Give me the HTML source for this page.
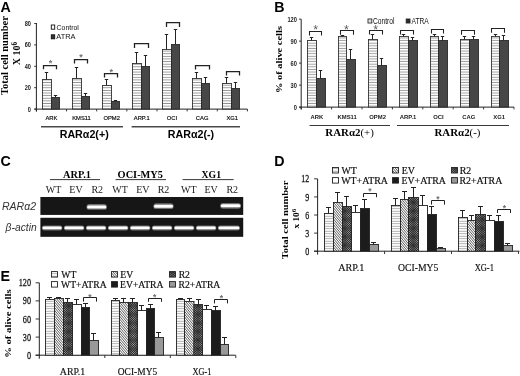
<!DOCTYPE html>
<html><head><meta charset="utf-8"><title>Figure</title>
<style>
html,body{margin:0;padding:0;background:#fff;}
body{width:520px;height:376px;overflow:hidden;font-family:"Liberation Sans",sans-serif;}
svg{display:block;}
</style></head><body>
<svg width="520" height="376" viewBox="0 0 520 376">
<rect width="520" height="376" fill="#fff"/>
<defs>
<pattern id="hz" width="4" height="2.62" patternUnits="userSpaceOnUse"><rect width="4" height="2.62" fill="#fff"/><rect y="0.9" width="4" height="0.85" fill="#8e8e8e"/></pattern>
<pattern id="hzB" width="4" height="2.62" patternUnits="userSpaceOnUse"><rect width="4" height="2.62" fill="#fff"/><rect y="0.8" width="4" height="0.8" fill="#8a8a8a"/></pattern>
<pattern id="hzD" width="4" height="2.5" patternUnits="userSpaceOnUse"><rect width="4" height="2.5" fill="#fff"/><rect y="0.8" width="4" height="0.75" fill="#969696"/></pattern>
<pattern id="dg" width="1.7" height="1.7" patternUnits="userSpaceOnUse" patternTransform="rotate(-32)"><rect width="1.7" height="1.7" fill="#f6f6f6"/><rect width="0.7" height="1.7" fill="#6a6a6a"/></pattern>
<pattern id="ck" width="1.6" height="1.6" patternUnits="userSpaceOnUse" patternTransform="rotate(45)"><rect width="1.6" height="1.6" fill="#282828"/><rect width="0.78" height="0.78" fill="#b0b0b0"/></pattern>
<pattern id="gr" width="4" height="2" patternUnits="userSpaceOnUse"><rect width="4" height="2" fill="#a2a2a2"/><rect y="0.6" width="4" height="0.8" fill="#8c8c8c"/></pattern>
<filter id="blur"><feGaussianBlur stdDeviation="0.3"/></filter>
<filter id="bblur" x="-10%" y="-60%" width="120%" height="220%"><feGaussianBlur stdDeviation="0.7"/></filter>
</defs>
<g filter="url(#blur)">
<text transform="translate(0.60,12.00) scale(0.95,1)" font-family='"Liberation Sans", sans-serif' font-size="15" font-weight="bold" text-anchor="start" fill="#000" >A</text>
<line x1="36.40" y1="23.00" x2="36.40" y2="111.50" stroke="#222" stroke-width="1"/>
<line x1="34.40" y1="109.10" x2="247.40" y2="109.10" stroke="#222" stroke-width="1"/>
<line x1="34.20" y1="109.10" x2="36.40" y2="109.10" stroke="#222" stroke-width="0.9"/>
<text transform="translate(30.90,111.50) scale(0.84,1)" font-family='"Liberation Sans", sans-serif' font-size="6.7" font-weight="bold" text-anchor="end" fill="#222" >0</text>
<line x1="34.20" y1="87.70" x2="36.40" y2="87.70" stroke="#222" stroke-width="0.9"/>
<text transform="translate(30.90,90.10) scale(0.84,1)" font-family='"Liberation Sans", sans-serif' font-size="6.7" font-weight="bold" text-anchor="end" fill="#222" >20</text>
<line x1="34.20" y1="66.30" x2="36.40" y2="66.30" stroke="#222" stroke-width="0.9"/>
<text transform="translate(30.90,68.70) scale(0.84,1)" font-family='"Liberation Sans", sans-serif' font-size="6.7" font-weight="bold" text-anchor="end" fill="#222" >40</text>
<line x1="34.20" y1="44.90" x2="36.40" y2="44.90" stroke="#222" stroke-width="0.9"/>
<text transform="translate(30.90,47.30) scale(0.84,1)" font-family='"Liberation Sans", sans-serif' font-size="6.7" font-weight="bold" text-anchor="end" fill="#222" >60</text>
<line x1="34.20" y1="23.50" x2="36.40" y2="23.50" stroke="#222" stroke-width="0.9"/>
<text transform="translate(30.90,25.90) scale(0.84,1)" font-family='"Liberation Sans", sans-serif' font-size="6.7" font-weight="bold" text-anchor="end" fill="#222" >80</text>
<line x1="36.40" y1="109.10" x2="36.40" y2="111.40" stroke="#222" stroke-width="0.9"/>
<line x1="66.55" y1="109.10" x2="66.55" y2="111.40" stroke="#222" stroke-width="0.9"/>
<line x1="96.70" y1="109.10" x2="96.70" y2="111.40" stroke="#222" stroke-width="0.9"/>
<line x1="126.85" y1="109.10" x2="126.85" y2="111.40" stroke="#222" stroke-width="0.9"/>
<line x1="157.00" y1="109.10" x2="157.00" y2="111.40" stroke="#222" stroke-width="0.9"/>
<line x1="187.15" y1="109.10" x2="187.15" y2="111.40" stroke="#222" stroke-width="0.9"/>
<line x1="217.30" y1="109.10" x2="217.30" y2="111.40" stroke="#222" stroke-width="0.9"/>
<line x1="247.45" y1="109.10" x2="247.45" y2="111.40" stroke="#222" stroke-width="0.9"/>
<text transform="translate(7.80,55.60) rotate(-90)" font-family='"Liberation Serif", serif' font-size="9.4" font-weight="bold" text-anchor="middle" fill="#000" textLength="79" lengthAdjust="spacingAndGlyphs">Total cell number</text>
<text transform="translate(20.4,53.6) rotate(-90)" font-family='"Liberation Serif", serif' font-size="10" font-weight="bold" text-anchor="middle">X 10<tspan font-size="7.2" dy="-3.2">6</tspan></text>
<rect x="51.30" y="25.00" width="3.40" height="4.20" fill="#fff" stroke="#111" stroke-width="0.9"/>
<text x="56.60" y="30.10" font-family='"Liberation Sans", sans-serif' font-size="7.8" font-weight="normal" font-style="normal" text-anchor="start" fill="#111" textLength="22.3" lengthAdjust="spacingAndGlyphs">Control</text>
<rect x="51.30" y="34.80" width="3.40" height="4.00" fill="#333" stroke="#111" stroke-width="0.9"/>
<text x="56.30" y="39.20" font-family='"Liberation Sans", sans-serif' font-size="7.8" font-weight="normal" font-style="normal" text-anchor="start" fill="#111" textLength="19.2" lengthAdjust="spacingAndGlyphs">ATRA</text>
<rect x="42.50" y="79.50" width="9.00" height="29.60" fill="url(#hz)" stroke="#333" stroke-width="0.9"/>
<rect x="51.50" y="97.50" width="8.00" height="11.60" fill="#464646" stroke="#2a2a2a" stroke-width="0.9"/>
<line x1="46.50" y1="72.50" x2="46.50" y2="79.50" stroke="#222" stroke-width="1.0"/>
<line x1="44.80" y1="72.50" x2="48.20" y2="72.50" stroke="#222" stroke-width="1.0"/>
<line x1="55.50" y1="95.50" x2="55.50" y2="97.50" stroke="#222" stroke-width="1.0"/>
<line x1="53.80" y1="95.50" x2="57.20" y2="95.50" stroke="#222" stroke-width="1.0"/>
<path d="M43.50,69.20 L43.50,65.50 L56.50,65.50 L56.50,69.20" fill="none" stroke="#222" stroke-width="1.25"/>
<text x="50.40" y="66.00" font-family='"Liberation Sans", sans-serif' font-size="9" font-weight="bold" font-style="normal" text-anchor="middle" fill="#747474" >*</text>
<text x="51.37" y="119.70" font-family='"Liberation Sans", sans-serif' font-size="5.8" font-weight="normal" font-style="normal" text-anchor="middle" fill="#000" stroke="#000" stroke-width="0.15">ARK</text>
<rect x="72.50" y="78.50" width="9.00" height="30.60" fill="url(#hz)" stroke="#333" stroke-width="0.9"/>
<rect x="81.50" y="96.50" width="8.00" height="12.60" fill="#464646" stroke="#2a2a2a" stroke-width="0.9"/>
<line x1="76.50" y1="67.50" x2="76.50" y2="78.50" stroke="#222" stroke-width="1.0"/>
<line x1="74.80" y1="67.50" x2="78.20" y2="67.50" stroke="#222" stroke-width="1.0"/>
<line x1="85.50" y1="93.50" x2="85.50" y2="96.50" stroke="#222" stroke-width="1.0"/>
<line x1="83.80" y1="93.50" x2="87.20" y2="93.50" stroke="#222" stroke-width="1.0"/>
<path d="M74.50,63.60 L74.50,59.50 L87.50,59.50 L87.50,63.60" fill="none" stroke="#222" stroke-width="1.25"/>
<text x="81.10" y="60.40" font-family='"Liberation Sans", sans-serif' font-size="9" font-weight="bold" font-style="normal" text-anchor="middle" fill="#747474" >*</text>
<text x="81.53" y="119.70" font-family='"Liberation Sans", sans-serif' font-size="5.8" font-weight="normal" font-style="normal" text-anchor="middle" fill="#000" stroke="#000" stroke-width="0.15">KMS11</text>
<rect x="102.50" y="85.50" width="9.00" height="23.60" fill="url(#hz)" stroke="#333" stroke-width="0.9"/>
<rect x="111.50" y="101.50" width="8.00" height="7.60" fill="#464646" stroke="#2a2a2a" stroke-width="0.9"/>
<line x1="106.50" y1="79.50" x2="106.50" y2="85.50" stroke="#222" stroke-width="1.0"/>
<line x1="104.80" y1="79.50" x2="108.20" y2="79.50" stroke="#222" stroke-width="1.0"/>
<line x1="115.50" y1="100.50" x2="115.50" y2="101.50" stroke="#222" stroke-width="1.0"/>
<line x1="113.80" y1="100.50" x2="117.20" y2="100.50" stroke="#222" stroke-width="1.0"/>
<path d="M104.50,77.60 L104.50,73.50 L117.50,73.50 L117.50,77.60" fill="none" stroke="#222" stroke-width="1.25"/>
<text x="111.30" y="74.60" font-family='"Liberation Sans", sans-serif' font-size="9" font-weight="bold" font-style="normal" text-anchor="middle" fill="#747474" >*</text>
<text x="111.68" y="119.70" font-family='"Liberation Sans", sans-serif' font-size="5.8" font-weight="normal" font-style="normal" text-anchor="middle" fill="#000" stroke="#000" stroke-width="0.15">OPM2</text>
<rect x="132.50" y="63.50" width="9.00" height="45.60" fill="url(#hz)" stroke="#333" stroke-width="0.9"/>
<rect x="141.50" y="66.50" width="8.00" height="42.60" fill="#464646" stroke="#2a2a2a" stroke-width="0.9"/>
<line x1="136.50" y1="52.50" x2="136.50" y2="63.50" stroke="#222" stroke-width="1.0"/>
<line x1="134.80" y1="52.50" x2="138.20" y2="52.50" stroke="#222" stroke-width="1.0"/>
<line x1="145.50" y1="55.50" x2="145.50" y2="66.50" stroke="#222" stroke-width="1.0"/>
<line x1="143.80" y1="55.50" x2="147.20" y2="55.50" stroke="#222" stroke-width="1.0"/>
<path d="M134.50,48.00 L134.50,43.50 L148.50,43.50 L148.50,48.00" fill="none" stroke="#222" stroke-width="1.25"/>
<text x="141.82" y="119.70" font-family='"Liberation Sans", sans-serif' font-size="5.8" font-weight="normal" font-style="normal" text-anchor="middle" fill="#000" stroke="#000" stroke-width="0.15">ARP.1</text>
<rect x="162.50" y="49.50" width="9.00" height="59.60" fill="url(#hz)" stroke="#333" stroke-width="0.9"/>
<rect x="171.50" y="44.50" width="8.00" height="64.60" fill="#464646" stroke="#2a2a2a" stroke-width="0.9"/>
<line x1="166.50" y1="34.50" x2="166.50" y2="49.50" stroke="#222" stroke-width="1.0"/>
<line x1="164.80" y1="34.50" x2="168.20" y2="34.50" stroke="#222" stroke-width="1.0"/>
<line x1="175.50" y1="29.50" x2="175.50" y2="44.50" stroke="#222" stroke-width="1.0"/>
<line x1="173.80" y1="29.50" x2="177.20" y2="29.50" stroke="#222" stroke-width="1.0"/>
<path d="M166.50,27.00 L166.50,22.50 L179.50,22.50 L179.50,27.00" fill="none" stroke="#222" stroke-width="1.25"/>
<text x="171.97" y="119.70" font-family='"Liberation Sans", sans-serif' font-size="5.8" font-weight="normal" font-style="normal" text-anchor="middle" fill="#000" stroke="#000" stroke-width="0.15">OCI</text>
<rect x="192.50" y="78.50" width="9.00" height="30.60" fill="url(#hz)" stroke="#333" stroke-width="0.9"/>
<rect x="201.50" y="83.50" width="8.00" height="25.60" fill="#464646" stroke="#2a2a2a" stroke-width="0.9"/>
<line x1="196.50" y1="72.50" x2="196.50" y2="78.50" stroke="#222" stroke-width="1.0"/>
<line x1="194.80" y1="72.50" x2="198.20" y2="72.50" stroke="#222" stroke-width="1.0"/>
<line x1="205.50" y1="77.50" x2="205.50" y2="83.50" stroke="#222" stroke-width="1.0"/>
<line x1="203.80" y1="77.50" x2="207.20" y2="77.50" stroke="#222" stroke-width="1.0"/>
<path d="M195.50,69.40 L195.50,65.50 L209.50,65.50 L209.50,69.40" fill="none" stroke="#222" stroke-width="1.25"/>
<text x="202.12" y="119.70" font-family='"Liberation Sans", sans-serif' font-size="5.8" font-weight="normal" font-style="normal" text-anchor="middle" fill="#000" stroke="#000" stroke-width="0.15">CAG</text>
<rect x="222.50" y="83.50" width="9.00" height="25.60" fill="url(#hz)" stroke="#333" stroke-width="0.9"/>
<rect x="231.50" y="88.50" width="8.00" height="20.60" fill="#464646" stroke="#2a2a2a" stroke-width="0.9"/>
<line x1="226.50" y1="77.50" x2="226.50" y2="83.50" stroke="#222" stroke-width="1.0"/>
<line x1="224.80" y1="77.50" x2="228.20" y2="77.50" stroke="#222" stroke-width="1.0"/>
<line x1="235.50" y1="82.50" x2="235.50" y2="88.50" stroke="#222" stroke-width="1.0"/>
<line x1="233.80" y1="82.50" x2="237.20" y2="82.50" stroke="#222" stroke-width="1.0"/>
<path d="M226.50,75.40 L226.50,71.50 L239.50,71.50 L239.50,75.40" fill="none" stroke="#222" stroke-width="1.25"/>
<text x="232.28" y="119.70" font-family='"Liberation Sans", sans-serif' font-size="5.8" font-weight="normal" font-style="normal" text-anchor="middle" fill="#000" stroke="#000" stroke-width="0.15">XG1</text>
<line x1="41.00" y1="126.70" x2="123.00" y2="126.70" stroke="#4a4a4a" stroke-width="1.5"/>
<line x1="131.60" y1="126.70" x2="240.00" y2="126.70" stroke="#4a4a4a" stroke-width="1.5"/>
<text x="84.20" y="137.50" font-family='"Liberation Sans", sans-serif' font-size="10.7" font-weight="bold" font-style="normal" text-anchor="middle" fill="#000" >RAR&#945;2(+)</text>
<text x="191.00" y="137.50" font-family='"Liberation Sans", sans-serif' font-size="10.7" font-weight="bold" font-style="normal" text-anchor="middle" fill="#000" >RAR&#945;2(-)</text>
<text transform="translate(274.30,12.00) scale(0.95,1)" font-family='"Liberation Sans", sans-serif' font-size="15" font-weight="bold" text-anchor="start" fill="#000" >B</text>
<line x1="301.20" y1="19.20" x2="301.20" y2="109.50" stroke="#222" stroke-width="1"/>
<line x1="299.20" y1="107.10" x2="514.00" y2="107.10" stroke="#222" stroke-width="1"/>
<line x1="299.00" y1="107.10" x2="301.20" y2="107.10" stroke="#222" stroke-width="0.9"/>
<text transform="translate(297.00,109.70) scale(0.9,1)" font-family='"Liberation Sans", sans-serif' font-size="6.4" font-weight="bold" text-anchor="end" fill="#222" >0</text>
<line x1="299.00" y1="85.11" x2="301.20" y2="85.11" stroke="#222" stroke-width="0.9"/>
<text transform="translate(297.00,87.71) scale(0.9,1)" font-family='"Liberation Sans", sans-serif' font-size="6.4" font-weight="bold" text-anchor="end" fill="#222" >30</text>
<line x1="299.00" y1="63.12" x2="301.20" y2="63.12" stroke="#222" stroke-width="0.9"/>
<text transform="translate(297.00,65.72) scale(0.9,1)" font-family='"Liberation Sans", sans-serif' font-size="6.4" font-weight="bold" text-anchor="end" fill="#222" >60</text>
<line x1="299.00" y1="41.13" x2="301.20" y2="41.13" stroke="#222" stroke-width="0.9"/>
<text transform="translate(297.00,43.73) scale(0.9,1)" font-family='"Liberation Sans", sans-serif' font-size="6.4" font-weight="bold" text-anchor="end" fill="#222" >90</text>
<line x1="299.00" y1="19.14" x2="301.20" y2="19.14" stroke="#222" stroke-width="0.9"/>
<text transform="translate(297.00,21.74) scale(0.9,1)" font-family='"Liberation Sans", sans-serif' font-size="6.4" font-weight="bold" text-anchor="end" fill="#222" >120</text>
<line x1="301.20" y1="107.10" x2="301.20" y2="109.40" stroke="#222" stroke-width="0.9"/>
<line x1="331.60" y1="107.10" x2="331.60" y2="109.40" stroke="#222" stroke-width="0.9"/>
<line x1="362.00" y1="107.10" x2="362.00" y2="109.40" stroke="#222" stroke-width="0.9"/>
<line x1="392.40" y1="107.10" x2="392.40" y2="109.40" stroke="#222" stroke-width="0.9"/>
<line x1="422.80" y1="107.10" x2="422.80" y2="109.40" stroke="#222" stroke-width="0.9"/>
<line x1="453.20" y1="107.10" x2="453.20" y2="109.40" stroke="#222" stroke-width="0.9"/>
<line x1="483.60" y1="107.10" x2="483.60" y2="109.40" stroke="#222" stroke-width="0.9"/>
<line x1="514.00" y1="107.10" x2="514.00" y2="109.40" stroke="#222" stroke-width="0.9"/>
<text transform="translate(282.20,59.50) rotate(-90)" font-family='"Liberation Serif", serif' font-size="9.0" font-weight="bold" text-anchor="middle" fill="#000" textLength="67" lengthAdjust="spacingAndGlyphs">% of alive cells</text>
<rect x="368.00" y="19.00" width="3.80" height="4.00" fill="#fff" stroke="#222" stroke-width="0.9"/>
<line x1="368.40" y1="21.00" x2="371.40" y2="21.00" stroke="#999" stroke-width="0.6"/>
<text x="373.00" y="24.00" font-family='"Liberation Sans", sans-serif' font-size="8.2" font-weight="normal" font-style="normal" text-anchor="start" fill="#111" textLength="21.5" lengthAdjust="spacingAndGlyphs">Control</text>
<rect x="406.20" y="19.00" width="3.80" height="4.00" fill="#2e2e2e" stroke="#222" stroke-width="0.9"/>
<text x="411.60" y="24.00" font-family='"Liberation Sans", sans-serif' font-size="8.2" font-weight="normal" font-style="normal" text-anchor="start" fill="#111" textLength="17.2" lengthAdjust="spacingAndGlyphs">ATRA</text>
<rect x="307.50" y="40.50" width="9.00" height="66.60" fill="url(#hzB)" stroke="#333" stroke-width="0.9"/>
<rect x="316.50" y="78.50" width="9.00" height="28.60" fill="#464646" stroke="#2a2a2a" stroke-width="0.9"/>
<line x1="311.50" y1="37.50" x2="311.50" y2="40.50" stroke="#222" stroke-width="1.0"/>
<line x1="309.80" y1="37.50" x2="313.20" y2="37.50" stroke="#222" stroke-width="1.0"/>
<line x1="320.50" y1="70.50" x2="320.50" y2="78.50" stroke="#222" stroke-width="1.0"/>
<line x1="318.80" y1="70.50" x2="322.20" y2="70.50" stroke="#222" stroke-width="1.0"/>
<path d="M309.50,35.40 L309.50,31.50 L321.50,31.50 L321.50,35.40" fill="none" stroke="#222" stroke-width="1.05"/>
<text x="315.60" y="34.10" font-family='"Liberation Sans", sans-serif' font-size="12.5" font-weight="normal" font-style="normal" text-anchor="middle" fill="#5e5e5e" >*</text>
<text x="316.80" y="119.00" font-family='"Liberation Sans", sans-serif' font-size="5.9" font-weight="bold" font-style="normal" text-anchor="middle" fill="#222" >ARK</text>
<rect x="338.50" y="36.50" width="8.00" height="70.60" fill="url(#hzB)" stroke="#333" stroke-width="0.9"/>
<rect x="346.50" y="59.50" width="9.00" height="47.60" fill="#464646" stroke="#2a2a2a" stroke-width="0.9"/>
<line x1="342.50" y1="35.50" x2="342.50" y2="36.50" stroke="#222" stroke-width="1.0"/>
<line x1="340.80" y1="35.50" x2="344.20" y2="35.50" stroke="#222" stroke-width="1.0"/>
<line x1="350.50" y1="49.50" x2="350.50" y2="59.50" stroke="#222" stroke-width="1.0"/>
<line x1="348.80" y1="49.50" x2="352.20" y2="49.50" stroke="#222" stroke-width="1.0"/>
<path d="M340.50,34.80 L340.50,30.50 L353.50,30.50 L353.50,34.80" fill="none" stroke="#222" stroke-width="1.05"/>
<text x="346.50" y="33.70" font-family='"Liberation Sans", sans-serif' font-size="12.5" font-weight="normal" font-style="normal" text-anchor="middle" fill="#5e5e5e" >*</text>
<text x="347.20" y="119.00" font-family='"Liberation Sans", sans-serif' font-size="5.9" font-weight="bold" font-style="normal" text-anchor="middle" fill="#222" >KMS11</text>
<rect x="368.50" y="39.50" width="9.00" height="67.60" fill="url(#hzB)" stroke="#333" stroke-width="0.9"/>
<rect x="377.50" y="65.50" width="9.00" height="41.60" fill="#464646" stroke="#2a2a2a" stroke-width="0.9"/>
<line x1="372.50" y1="34.50" x2="372.50" y2="39.50" stroke="#222" stroke-width="1.0"/>
<line x1="370.80" y1="34.50" x2="374.20" y2="34.50" stroke="#222" stroke-width="1.0"/>
<line x1="381.50" y1="58.50" x2="381.50" y2="65.50" stroke="#222" stroke-width="1.0"/>
<line x1="379.80" y1="58.50" x2="383.20" y2="58.50" stroke="#222" stroke-width="1.0"/>
<path d="M369.50,34.60 L369.50,30.50 L382.50,30.50 L382.50,34.60" fill="none" stroke="#222" stroke-width="1.05"/>
<text x="375.80" y="33.50" font-family='"Liberation Sans", sans-serif' font-size="12.5" font-weight="normal" font-style="normal" text-anchor="middle" fill="#5e5e5e" >*</text>
<text x="377.60" y="119.00" font-family='"Liberation Sans", sans-serif' font-size="5.9" font-weight="bold" font-style="normal" text-anchor="middle" fill="#222" >OPM2</text>
<rect x="399.50" y="36.50" width="9.00" height="70.60" fill="url(#hzB)" stroke="#333" stroke-width="0.9"/>
<rect x="408.50" y="40.50" width="9.00" height="66.60" fill="#464646" stroke="#2a2a2a" stroke-width="0.9"/>
<line x1="403.50" y1="34.50" x2="403.50" y2="36.50" stroke="#222" stroke-width="1.0"/>
<line x1="401.80" y1="34.50" x2="405.20" y2="34.50" stroke="#222" stroke-width="1.0"/>
<line x1="412.50" y1="37.50" x2="412.50" y2="40.50" stroke="#222" stroke-width="1.0"/>
<line x1="410.80" y1="37.50" x2="414.20" y2="37.50" stroke="#222" stroke-width="1.0"/>
<path d="M400.50,34.40 L400.50,30.50 L413.50,30.50 L413.50,34.40" fill="none" stroke="#222" stroke-width="1.05"/>
<text x="408.00" y="119.00" font-family='"Liberation Sans", sans-serif' font-size="5.9" font-weight="bold" font-style="normal" text-anchor="middle" fill="#222" >ARP.1</text>
<rect x="430.50" y="36.50" width="8.00" height="70.60" fill="url(#hzB)" stroke="#333" stroke-width="0.9"/>
<rect x="438.50" y="40.50" width="9.00" height="66.60" fill="#464646" stroke="#2a2a2a" stroke-width="0.9"/>
<line x1="434.50" y1="34.50" x2="434.50" y2="36.50" stroke="#222" stroke-width="1.0"/>
<line x1="432.80" y1="34.50" x2="436.20" y2="34.50" stroke="#222" stroke-width="1.0"/>
<line x1="442.50" y1="36.50" x2="442.50" y2="40.50" stroke="#222" stroke-width="1.0"/>
<line x1="440.80" y1="36.50" x2="444.20" y2="36.50" stroke="#222" stroke-width="1.0"/>
<path d="M431.50,33.40 L431.50,29.50 L443.50,29.50 L443.50,33.40" fill="none" stroke="#222" stroke-width="1.05"/>
<text x="438.40" y="119.00" font-family='"Liberation Sans", sans-serif' font-size="5.9" font-weight="bold" font-style="normal" text-anchor="middle" fill="#222" >OCI</text>
<rect x="460.50" y="39.50" width="9.00" height="67.60" fill="url(#hzB)" stroke="#333" stroke-width="0.9"/>
<rect x="469.50" y="39.50" width="9.00" height="67.60" fill="#464646" stroke="#2a2a2a" stroke-width="0.9"/>
<line x1="464.50" y1="36.50" x2="464.50" y2="39.50" stroke="#222" stroke-width="1.0"/>
<line x1="462.80" y1="36.50" x2="466.20" y2="36.50" stroke="#222" stroke-width="1.0"/>
<line x1="473.50" y1="36.50" x2="473.50" y2="39.50" stroke="#222" stroke-width="1.0"/>
<line x1="471.80" y1="36.50" x2="475.20" y2="36.50" stroke="#222" stroke-width="1.0"/>
<path d="M461.50,34.80 L461.50,30.50 L474.50,30.50 L474.50,34.80" fill="none" stroke="#222" stroke-width="1.05"/>
<text x="468.80" y="119.00" font-family='"Liberation Sans", sans-serif' font-size="5.9" font-weight="bold" font-style="normal" text-anchor="middle" fill="#222" >CAG</text>
<rect x="491.50" y="36.50" width="8.00" height="70.60" fill="url(#hzB)" stroke="#333" stroke-width="0.9"/>
<rect x="499.50" y="40.50" width="9.00" height="66.60" fill="#464646" stroke="#2a2a2a" stroke-width="0.9"/>
<line x1="495.50" y1="34.50" x2="495.50" y2="36.50" stroke="#222" stroke-width="1.0"/>
<line x1="493.80" y1="34.50" x2="497.20" y2="34.50" stroke="#222" stroke-width="1.0"/>
<line x1="503.50" y1="35.50" x2="503.50" y2="40.50" stroke="#222" stroke-width="1.0"/>
<line x1="501.80" y1="35.50" x2="505.20" y2="35.50" stroke="#222" stroke-width="1.0"/>
<path d="M491.50,32.80 L491.50,28.50 L504.50,28.50 L504.50,32.80" fill="none" stroke="#222" stroke-width="1.05"/>
<text x="499.20" y="119.00" font-family='"Liberation Sans", sans-serif' font-size="5.9" font-weight="bold" font-style="normal" text-anchor="middle" fill="#222" >XG1</text>
<line x1="309.60" y1="125.50" x2="390.00" y2="125.50" stroke="#222" stroke-width="0.9"/>
<line x1="397.00" y1="125.50" x2="509.00" y2="125.50" stroke="#222" stroke-width="0.9"/>
<text x="349.60" y="136.40" font-family='"Liberation Serif", serif' font-size="10.9" font-weight="bold" font-style="normal" text-anchor="middle" fill="#000" >RAR&#945;2<tspan font-weight="normal">(+)</tspan></text>
<text x="457.50" y="136.40" font-family='"Liberation Serif", serif' font-size="10.9" font-weight="bold" font-style="normal" text-anchor="middle" fill="#000" >RAR&#945;2<tspan font-weight="normal">(-)</tspan></text>
<text transform="translate(0.50,166.30) scale(0.95,1)" font-family='"Liberation Sans", sans-serif' font-size="15" font-weight="bold" text-anchor="start" fill="#000" >C</text>
<text x="77.00" y="177.60" font-family='"Liberation Serif", serif' font-size="10" font-weight="bold" font-style="normal" text-anchor="middle" fill="#000" textLength="28" lengthAdjust="spacingAndGlyphs">ARP.1</text>
<line x1="50.00" y1="179.60" x2="100.00" y2="179.60" stroke="#222" stroke-width="0.9"/>
<text x="140.30" y="177.60" font-family='"Liberation Serif", serif' font-size="10" font-weight="bold" font-style="normal" text-anchor="middle" fill="#000" textLength="45.4" lengthAdjust="spacingAndGlyphs">OCI-MY5</text>
<line x1="115.60" y1="179.60" x2="166.00" y2="179.60" stroke="#222" stroke-width="0.9"/>
<text x="211.30" y="177.60" font-family='"Liberation Serif", serif' font-size="10" font-weight="bold" font-style="normal" text-anchor="middle" fill="#000" textLength="19.4" lengthAdjust="spacingAndGlyphs">XG1</text>
<line x1="182.60" y1="179.60" x2="233.60" y2="179.60" stroke="#222" stroke-width="0.9"/>
<text x="53.50" y="193.00" font-family='"Liberation Serif", serif' font-size="10" font-weight="normal" font-style="normal" text-anchor="middle" fill="#222" >WT</text>
<text x="76.00" y="193.00" font-family='"Liberation Serif", serif' font-size="10" font-weight="normal" font-style="normal" text-anchor="middle" fill="#222" >EV</text>
<text x="97.30" y="193.00" font-family='"Liberation Serif", serif' font-size="10" font-weight="normal" font-style="normal" text-anchor="middle" fill="#222" >R2</text>
<text x="120.00" y="193.00" font-family='"Liberation Serif", serif' font-size="10" font-weight="normal" font-style="normal" text-anchor="middle" fill="#222" >WT</text>
<text x="142.80" y="193.00" font-family='"Liberation Serif", serif' font-size="10" font-weight="normal" font-style="normal" text-anchor="middle" fill="#222" >EV</text>
<text x="163.50" y="193.00" font-family='"Liberation Serif", serif' font-size="10" font-weight="normal" font-style="normal" text-anchor="middle" fill="#222" >R2</text>
<text x="188.80" y="193.00" font-family='"Liberation Serif", serif' font-size="10" font-weight="normal" font-style="normal" text-anchor="middle" fill="#222" >WT</text>
<text x="211.20" y="193.00" font-family='"Liberation Serif", serif' font-size="10" font-weight="normal" font-style="normal" text-anchor="middle" fill="#222" >EV</text>
<text x="232.30" y="193.00" font-family='"Liberation Serif", serif' font-size="10" font-weight="normal" font-style="normal" text-anchor="middle" fill="#222" >R2</text>
<text x="2.00" y="209.80" font-family='"Liberation Sans", sans-serif' font-size="10.5" font-weight="normal" font-style="italic" text-anchor="start" fill="#333" >RAR&#945;2</text>
<text x="5.60" y="231.20" font-family='"Liberation Sans", sans-serif' font-size="10.3" font-weight="normal" font-style="italic" text-anchor="start" fill="#333" >&#946;-actin</text>
<rect x="40.4" y="197" width="202.8" height="17.9" fill="#121212"/>
<rect x="40.4" y="217.8" width="202.8" height="19.0" fill="#121212"/>
<rect x="86.40" y="204.00" width="20.60" height="5.80" rx="2.90" fill="#707070" filter="url(#bblur)"/>
<rect x="87.10" y="205.40" width="19.20" height="3.00" rx="1.50" fill="#fff"/>
<rect x="153.30" y="203.30" width="20.40" height="5.80" rx="2.90" fill="#707070" filter="url(#bblur)"/>
<rect x="154.00" y="204.70" width="19.00" height="3.00" rx="1.50" fill="#fff"/>
<rect x="220.10" y="202.90" width="21.00" height="5.80" rx="2.90" fill="#707070" filter="url(#bblur)"/>
<rect x="220.80" y="204.30" width="19.60" height="3.00" rx="1.50" fill="#fff"/>
<rect x="41.80" y="225.40" width="20.60" height="5.00" rx="2.50" fill="#707070" filter="url(#bblur)"/>
<rect x="42.50" y="226.60" width="19.20" height="2.60" rx="1.30" fill="#fff"/>
<rect x="63.80" y="225.40" width="20.60" height="5.00" rx="2.50" fill="#707070" filter="url(#bblur)"/>
<rect x="64.50" y="226.60" width="19.20" height="2.60" rx="1.30" fill="#fff"/>
<rect x="85.80" y="225.40" width="20.60" height="5.00" rx="2.50" fill="#707070" filter="url(#bblur)"/>
<rect x="86.50" y="226.60" width="19.20" height="2.60" rx="1.30" fill="#fff"/>
<rect x="107.80" y="225.40" width="20.60" height="5.00" rx="2.50" fill="#707070" filter="url(#bblur)"/>
<rect x="108.50" y="226.60" width="19.20" height="2.60" rx="1.30" fill="#fff"/>
<rect x="129.80" y="225.40" width="20.60" height="5.00" rx="2.50" fill="#707070" filter="url(#bblur)"/>
<rect x="130.50" y="226.60" width="19.20" height="2.60" rx="1.30" fill="#fff"/>
<rect x="151.80" y="225.40" width="20.60" height="5.00" rx="2.50" fill="#707070" filter="url(#bblur)"/>
<rect x="152.50" y="226.60" width="19.20" height="2.60" rx="1.30" fill="#fff"/>
<rect x="173.80" y="225.40" width="20.60" height="5.00" rx="2.50" fill="#707070" filter="url(#bblur)"/>
<rect x="174.50" y="226.60" width="19.20" height="2.60" rx="1.30" fill="#fff"/>
<rect x="195.80" y="225.40" width="20.60" height="5.00" rx="2.50" fill="#707070" filter="url(#bblur)"/>
<rect x="196.50" y="226.60" width="19.20" height="2.60" rx="1.30" fill="#fff"/>
<rect x="217.80" y="225.40" width="22.20" height="5.00" rx="2.50" fill="#707070" filter="url(#bblur)"/>
<rect x="218.50" y="226.60" width="20.80" height="2.60" rx="1.30" fill="#fff"/>
<text transform="translate(274.30,166.20) scale(0.95,1)" font-family='"Liberation Sans", sans-serif' font-size="15" font-weight="bold" text-anchor="start" fill="#000" >D</text>
<line x1="317.60" y1="178.84" x2="317.60" y2="254.60" stroke="#222" stroke-width="1"/>
<line x1="314.10" y1="251.20" x2="519.50" y2="251.20" stroke="#222" stroke-width="1"/>
<line x1="314.10" y1="251.20" x2="317.60" y2="251.20" stroke="#222" stroke-width="0.9"/>
<text transform="translate(309.30,254.80) scale(0.78,1)" font-family='"Liberation Serif", serif' font-size="10.2" font-weight="normal" text-anchor="end" fill="#111" stroke="#111" stroke-width="0.25">0</text>
<line x1="314.10" y1="233.11" x2="317.60" y2="233.11" stroke="#222" stroke-width="0.9"/>
<text transform="translate(309.30,236.71) scale(0.78,1)" font-family='"Liberation Serif", serif' font-size="10.2" font-weight="normal" text-anchor="end" fill="#111" stroke="#111" stroke-width="0.25">3</text>
<line x1="314.10" y1="215.02" x2="317.60" y2="215.02" stroke="#222" stroke-width="0.9"/>
<text transform="translate(309.30,218.62) scale(0.78,1)" font-family='"Liberation Serif", serif' font-size="10.2" font-weight="normal" text-anchor="end" fill="#111" stroke="#111" stroke-width="0.25">6</text>
<line x1="314.10" y1="196.93" x2="317.60" y2="196.93" stroke="#222" stroke-width="0.9"/>
<text transform="translate(309.30,200.53) scale(0.78,1)" font-family='"Liberation Serif", serif' font-size="10.2" font-weight="normal" text-anchor="end" fill="#111" stroke="#111" stroke-width="0.25">9</text>
<line x1="314.10" y1="178.84" x2="317.60" y2="178.84" stroke="#222" stroke-width="0.9"/>
<text transform="translate(309.30,182.44) scale(0.78,1)" font-family='"Liberation Serif", serif' font-size="10.2" font-weight="normal" text-anchor="end" fill="#111" stroke="#111" stroke-width="0.25">12</text>
<line x1="384.55" y1="251.20" x2="384.55" y2="254.00" stroke="#222" stroke-width="0.9"/>
<line x1="451.50" y1="251.20" x2="451.50" y2="254.00" stroke="#222" stroke-width="0.9"/>
<line x1="518.45" y1="251.20" x2="518.45" y2="254.00" stroke="#222" stroke-width="0.9"/>
<text transform="translate(287.80,219.90) rotate(-90)" font-family='"Liberation Serif", serif' font-size="8.8" font-weight="bold" text-anchor="middle" fill="#000" textLength="78.5" lengthAdjust="spacingAndGlyphs">Total cell number</text>
<text transform="translate(298.8,218.7) rotate(-90)" font-family='"Liberation Serif", serif' font-size="8.8" font-weight="bold" text-anchor="middle" textLength="19.6" lengthAdjust="spacingAndGlyphs">x 10<tspan font-size="6.6" dy="-2.8">6</tspan></text>
<rect x="332.50" y="167.50" width="6.00" height="5.50" fill="url(#hzD)" stroke="#222" stroke-width="0.9"/>
<text x="341.50" y="173.60" font-family='"Liberation Serif", serif' font-size="9.85" font-weight="normal" font-style="normal" text-anchor="start" fill="#111" stroke="#111" stroke-width="0.2">WT</text>
<rect x="332.50" y="177.60" width="6.00" height="5.50" fill="#fff" stroke="#222" stroke-width="0.9"/>
<text x="341.30" y="184.00" font-family='"Liberation Serif", serif' font-size="9.85" font-weight="normal" font-style="normal" text-anchor="start" fill="#111" stroke="#111" stroke-width="0.2">WT+ATRA</text>
<clipPath id="c1"><rect x="392.50" y="167.50" width="6.00" height="5.50"/></clipPath>
<rect x="392.50" y="167.50" width="6.00" height="5.50" fill="#fbfbfb"/>
<path clip-path="url(#c1)" d="M385.40,167.50L390.02,173.00M387.75,167.50L392.37,173.00M390.10,167.50L394.72,173.00M392.45,167.50L397.07,173.00M394.80,167.50L399.42,173.00M397.15,167.50L401.77,173.00M399.50,167.50L404.12,173.00" stroke="#383838" stroke-width="0.8" fill="none"/>
<rect x="392.50" y="167.50" width="6.00" height="5.50" fill="none" stroke="#222" stroke-width="0.9"/>
<text x="401.70" y="173.60" font-family='"Liberation Serif", serif' font-size="9.85" font-weight="normal" font-style="normal" text-anchor="start" fill="#111" stroke="#111" stroke-width="0.2">EV</text>
<rect x="392.50" y="177.60" width="6.00" height="5.50" fill="#1e1e1e" stroke="#222" stroke-width="0.9"/>
<text x="401.50" y="184.00" font-family='"Liberation Serif", serif' font-size="9.85" font-weight="normal" font-style="normal" text-anchor="start" fill="#111" stroke="#111" stroke-width="0.2">EV+ATRA</text>
<rect x="451.50" y="167.50" width="6.00" height="5.50" fill="url(#ck)" stroke="#222" stroke-width="0.9"/>
<text x="459.70" y="173.60" font-family='"Liberation Serif", serif' font-size="9.85" font-weight="normal" font-style="normal" text-anchor="start" fill="#111" stroke="#111" stroke-width="0.2">R2</text>
<rect x="451.50" y="177.60" width="6.00" height="5.50" fill="url(#gr)" stroke="#222" stroke-width="0.9"/>
<text x="459.50" y="184.00" font-family='"Liberation Serif", serif' font-size="9.85" font-weight="normal" font-style="normal" text-anchor="start" fill="#111" stroke="#111" stroke-width="0.2">R2+ATRA</text>
<rect x="324.50" y="213.50" width="9.00" height="37.70" fill="url(#hzD)" stroke="#222" stroke-width="0.9"/>
<line x1="328.50" y1="207.50" x2="328.50" y2="213.50" stroke="#222" stroke-width="1.0"/>
<line x1="326.00" y1="207.50" x2="331.00" y2="207.50" stroke="#222" stroke-width="1.0"/>
<clipPath id="c2"><rect x="333.50" y="202.50" width="9.00" height="48.70"/></clipPath>
<rect x="333.50" y="202.50" width="9.00" height="48.70" fill="#fbfbfb"/>
<path clip-path="url(#c2)" d="M289.05,202.50L329.91,251.20M291.40,202.50L332.26,251.20M293.75,202.50L334.61,251.20M296.10,202.50L336.96,251.20M298.45,202.50L339.31,251.20M300.80,202.50L341.66,251.20M303.15,202.50L344.01,251.20M305.50,202.50L346.36,251.20M307.85,202.50L348.71,251.20M310.20,202.50L351.06,251.20M312.55,202.50L353.41,251.20M314.90,202.50L355.76,251.20M317.25,202.50L358.11,251.20M319.60,202.50L360.46,251.20M321.95,202.50L362.81,251.20M324.30,202.50L365.16,251.20M326.65,202.50L367.51,251.20M329.00,202.50L369.86,251.20M331.35,202.50L372.21,251.20M333.70,202.50L374.56,251.20M336.05,202.50L376.91,251.20M338.40,202.50L379.26,251.20M340.75,202.50L381.61,251.20M343.10,202.50L383.96,251.20" stroke="#383838" stroke-width="0.8" fill="none"/>
<rect x="333.50" y="202.50" width="9.00" height="48.70" fill="none" stroke="#222" stroke-width="0.9"/>
<line x1="337.50" y1="192.50" x2="337.50" y2="202.50" stroke="#222" stroke-width="1.0"/>
<line x1="335.00" y1="192.50" x2="340.00" y2="192.50" stroke="#222" stroke-width="1.0"/>
<rect x="342.50" y="206.50" width="9.00" height="44.70" fill="url(#ck)" stroke="#222" stroke-width="0.9"/>
<line x1="346.50" y1="196.50" x2="346.50" y2="206.50" stroke="#222" stroke-width="1.0"/>
<line x1="344.00" y1="196.50" x2="349.00" y2="196.50" stroke="#222" stroke-width="1.0"/>
<rect x="351.50" y="212.50" width="9.00" height="38.70" fill="#fff" stroke="#222" stroke-width="0.9"/>
<line x1="355.50" y1="205.50" x2="355.50" y2="212.50" stroke="#222" stroke-width="1.0"/>
<line x1="353.00" y1="205.50" x2="358.00" y2="205.50" stroke="#222" stroke-width="1.0"/>
<rect x="360.50" y="208.50" width="9.00" height="42.70" fill="#1e1e1e" stroke="#222" stroke-width="0.9"/>
<line x1="364.50" y1="199.50" x2="364.50" y2="208.50" stroke="#222" stroke-width="1.0"/>
<line x1="362.00" y1="199.50" x2="367.00" y2="199.50" stroke="#222" stroke-width="1.0"/>
<rect x="369.50" y="244.50" width="9.00" height="6.70" fill="url(#gr)" stroke="#222" stroke-width="0.9"/>
<line x1="373.50" y1="242.50" x2="373.50" y2="244.50" stroke="#222" stroke-width="1.0"/>
<line x1="371.00" y1="242.50" x2="376.00" y2="242.50" stroke="#222" stroke-width="1.0"/>
<path d="M363.50,197.20 L363.50,193.50 L376.50,193.50 L376.50,197.20" fill="none" stroke="#222" stroke-width="1.0"/>
<text x="369.90" y="194.30" font-family='"Liberation Sans", sans-serif' font-size="8.5" font-weight="bold" font-style="normal" text-anchor="middle" fill="#6e6e6e" >*</text>
<rect x="391.50" y="205.50" width="9.00" height="45.70" fill="url(#hzD)" stroke="#222" stroke-width="0.9"/>
<line x1="395.50" y1="198.50" x2="395.50" y2="205.50" stroke="#222" stroke-width="1.0"/>
<line x1="393.00" y1="198.50" x2="398.00" y2="198.50" stroke="#222" stroke-width="1.0"/>
<clipPath id="c3"><rect x="400.50" y="199.50" width="8.00" height="51.70"/></clipPath>
<rect x="400.50" y="199.50" width="8.00" height="51.70" fill="#fbfbfb"/>
<path clip-path="url(#c3)" d="M352.50,199.50L395.88,251.20M354.85,199.50L398.23,251.20M357.20,199.50L400.58,251.20M359.55,199.50L402.93,251.20M361.90,199.50L405.28,251.20M364.25,199.50L407.63,251.20M366.60,199.50L409.98,251.20M368.95,199.50L412.33,251.20M371.30,199.50L414.68,251.20M373.65,199.50L417.03,251.20M376.00,199.50L419.38,251.20M378.35,199.50L421.73,251.20M380.70,199.50L424.08,251.20M383.05,199.50L426.43,251.20M385.40,199.50L428.78,251.20M387.75,199.50L431.13,251.20M390.10,199.50L433.48,251.20M392.45,199.50L435.83,251.20M394.80,199.50L438.18,251.20M397.15,199.50L440.53,251.20M399.50,199.50L442.88,251.20M401.85,199.50L445.23,251.20M404.20,199.50L447.58,251.20M406.55,199.50L449.93,251.20M408.90,199.50L452.28,251.20" stroke="#383838" stroke-width="0.8" fill="none"/>
<rect x="400.50" y="199.50" width="8.00" height="51.70" fill="none" stroke="#222" stroke-width="0.9"/>
<line x1="404.50" y1="191.50" x2="404.50" y2="199.50" stroke="#222" stroke-width="1.0"/>
<line x1="402.00" y1="191.50" x2="407.00" y2="191.50" stroke="#222" stroke-width="1.0"/>
<rect x="408.50" y="197.50" width="10.00" height="53.70" fill="url(#ck)" stroke="#222" stroke-width="0.9"/>
<line x1="413.50" y1="187.50" x2="413.50" y2="197.50" stroke="#222" stroke-width="1.0"/>
<line x1="411.00" y1="187.50" x2="416.00" y2="187.50" stroke="#222" stroke-width="1.0"/>
<rect x="418.50" y="205.50" width="9.00" height="45.70" fill="#fff" stroke="#222" stroke-width="0.9"/>
<line x1="422.50" y1="195.50" x2="422.50" y2="205.50" stroke="#222" stroke-width="1.0"/>
<line x1="420.00" y1="195.50" x2="425.00" y2="195.50" stroke="#222" stroke-width="1.0"/>
<rect x="427.50" y="214.50" width="9.00" height="36.70" fill="#1e1e1e" stroke="#222" stroke-width="0.9"/>
<line x1="431.50" y1="206.50" x2="431.50" y2="214.50" stroke="#222" stroke-width="1.0"/>
<line x1="429.00" y1="206.50" x2="434.00" y2="206.50" stroke="#222" stroke-width="1.0"/>
<rect x="436.50" y="248.50" width="9.00" height="2.70" fill="url(#gr)" stroke="#222" stroke-width="0.9"/>
<line x1="440.50" y1="247.50" x2="440.50" y2="248.50" stroke="#222" stroke-width="1.0"/>
<line x1="438.00" y1="247.50" x2="443.00" y2="247.50" stroke="#222" stroke-width="1.0"/>
<path d="M431.50,204.60 L431.50,200.50 L444.50,200.50 L444.50,204.60" fill="none" stroke="#222" stroke-width="1.0"/>
<text x="438.00" y="202.30" font-family='"Liberation Sans", sans-serif' font-size="8.5" font-weight="bold" font-style="normal" text-anchor="middle" fill="#6e6e6e" >*</text>
<rect x="458.50" y="217.50" width="9.00" height="33.70" fill="url(#hzD)" stroke="#222" stroke-width="0.9"/>
<line x1="462.50" y1="210.50" x2="462.50" y2="217.50" stroke="#222" stroke-width="1.0"/>
<line x1="460.00" y1="210.50" x2="465.00" y2="210.50" stroke="#222" stroke-width="1.0"/>
<clipPath id="c4"><rect x="467.50" y="220.50" width="8.00" height="30.70"/></clipPath>
<rect x="467.50" y="220.50" width="8.00" height="30.70" fill="#fbfbfb"/>
<path clip-path="url(#c4)" d="M437.10,220.50L462.86,251.20M439.45,220.50L465.21,251.20M441.80,220.50L467.56,251.20M444.15,220.50L469.91,251.20M446.50,220.50L472.26,251.20M448.85,220.50L474.61,251.20M451.20,220.50L476.96,251.20M453.55,220.50L479.31,251.20M455.90,220.50L481.66,251.20M458.25,220.50L484.01,251.20M460.60,220.50L486.36,251.20M462.95,220.50L488.71,251.20M465.30,220.50L491.06,251.20M467.65,220.50L493.41,251.20M470.00,220.50L495.76,251.20M472.35,220.50L498.11,251.20M474.70,220.50L500.46,251.20M477.05,220.50L502.81,251.20" stroke="#383838" stroke-width="0.8" fill="none"/>
<rect x="467.50" y="220.50" width="8.00" height="30.70" fill="none" stroke="#222" stroke-width="0.9"/>
<line x1="471.50" y1="215.50" x2="471.50" y2="220.50" stroke="#222" stroke-width="1.0"/>
<line x1="469.00" y1="215.50" x2="474.00" y2="215.50" stroke="#222" stroke-width="1.0"/>
<rect x="475.50" y="214.50" width="10.00" height="36.70" fill="url(#ck)" stroke="#222" stroke-width="0.9"/>
<line x1="480.50" y1="206.50" x2="480.50" y2="214.50" stroke="#222" stroke-width="1.0"/>
<line x1="478.00" y1="206.50" x2="483.00" y2="206.50" stroke="#222" stroke-width="1.0"/>
<rect x="485.50" y="220.50" width="9.00" height="30.70" fill="#fff" stroke="#222" stroke-width="0.9"/>
<line x1="489.50" y1="215.50" x2="489.50" y2="220.50" stroke="#222" stroke-width="1.0"/>
<line x1="487.00" y1="215.50" x2="492.00" y2="215.50" stroke="#222" stroke-width="1.0"/>
<rect x="494.50" y="221.50" width="9.00" height="29.70" fill="#1e1e1e" stroke="#222" stroke-width="0.9"/>
<line x1="498.50" y1="215.50" x2="498.50" y2="221.50" stroke="#222" stroke-width="1.0"/>
<line x1="496.00" y1="215.50" x2="501.00" y2="215.50" stroke="#222" stroke-width="1.0"/>
<rect x="503.50" y="245.50" width="9.00" height="5.70" fill="url(#gr)" stroke="#222" stroke-width="0.9"/>
<line x1="507.50" y1="243.50" x2="507.50" y2="245.50" stroke="#222" stroke-width="1.0"/>
<line x1="505.00" y1="243.50" x2="510.00" y2="243.50" stroke="#222" stroke-width="1.0"/>
<path d="M497.50,213.00 L497.50,209.50 L510.50,209.50 L510.50,213.00" fill="none" stroke="#222" stroke-width="1.0"/>
<text x="504.40" y="210.70" font-family='"Liberation Sans", sans-serif' font-size="8.5" font-weight="bold" font-style="normal" text-anchor="middle" fill="#6e6e6e" >*</text>
<text x="351.30" y="271.00" font-family='"Liberation Serif", serif' font-size="9.6" font-weight="normal" font-style="normal" text-anchor="middle" fill="#111" textLength="26.2" lengthAdjust="spacingAndGlyphs" stroke="#111" stroke-width="0.15">ARP.1</text>
<text x="418.20" y="271.00" font-family='"Liberation Serif", serif' font-size="9.6" font-weight="normal" font-style="normal" text-anchor="middle" fill="#111" textLength="40.4" lengthAdjust="spacingAndGlyphs" stroke="#111" stroke-width="0.15">OCI-MY5</text>
<text x="484.30" y="271.00" font-family='"Liberation Serif", serif' font-size="9.6" font-weight="normal" font-style="normal" text-anchor="middle" fill="#111" textLength="19.2" lengthAdjust="spacingAndGlyphs" stroke="#111" stroke-width="0.15">XG-1</text>
<text transform="translate(0.60,281.00) scale(0.95,1)" font-family='"Liberation Sans", sans-serif' font-size="15" font-weight="bold" text-anchor="start" fill="#000" >E</text>
<line x1="39.30" y1="282.80" x2="39.30" y2="358.70" stroke="#222" stroke-width="1"/>
<line x1="35.60" y1="355.20" x2="235.60" y2="355.20" stroke="#222" stroke-width="1"/>
<line x1="35.60" y1="355.20" x2="39.30" y2="355.20" stroke="#222" stroke-width="0.9"/>
<text transform="translate(31.00,358.70) scale(0.8,1)" font-family='"Liberation Serif", serif' font-size="10.2" font-weight="normal" text-anchor="end" fill="#111" stroke="#111" stroke-width="0.25">0</text>
<line x1="35.60" y1="337.10" x2="39.30" y2="337.10" stroke="#222" stroke-width="0.9"/>
<text transform="translate(31.00,340.60) scale(0.8,1)" font-family='"Liberation Serif", serif' font-size="10.2" font-weight="normal" text-anchor="end" fill="#111" stroke="#111" stroke-width="0.25">30</text>
<line x1="35.60" y1="319.00" x2="39.30" y2="319.00" stroke="#222" stroke-width="0.9"/>
<text transform="translate(31.00,322.50) scale(0.8,1)" font-family='"Liberation Serif", serif' font-size="10.2" font-weight="normal" text-anchor="end" fill="#111" stroke="#111" stroke-width="0.25">60</text>
<line x1="35.60" y1="300.90" x2="39.30" y2="300.90" stroke="#222" stroke-width="0.9"/>
<text transform="translate(31.00,304.40) scale(0.8,1)" font-family='"Liberation Serif", serif' font-size="10.2" font-weight="normal" text-anchor="end" fill="#111" stroke="#111" stroke-width="0.25">90</text>
<line x1="35.60" y1="282.80" x2="39.30" y2="282.80" stroke="#222" stroke-width="0.9"/>
<text transform="translate(31.00,286.30) scale(0.8,1)" font-family='"Liberation Serif", serif' font-size="10.2" font-weight="normal" text-anchor="end" fill="#111" stroke="#111" stroke-width="0.25">120</text>
<line x1="104.80" y1="355.20" x2="104.80" y2="358.00" stroke="#222" stroke-width="0.9"/>
<line x1="170.30" y1="355.20" x2="170.30" y2="358.00" stroke="#222" stroke-width="0.9"/>
<line x1="235.80" y1="355.20" x2="235.80" y2="358.00" stroke="#222" stroke-width="0.9"/>
<text transform="translate(10.70,323.60) rotate(-90)" font-family='"Liberation Serif", serif' font-size="9.0" font-weight="bold" text-anchor="middle" fill="#000" textLength="68.4" lengthAdjust="spacingAndGlyphs">% of alive cells</text>
<rect x="51.50" y="271.60" width="6.00" height="5.50" fill="url(#hzD)" stroke="#222" stroke-width="0.9"/>
<text x="61.30" y="278.10" font-family='"Liberation Serif", serif' font-size="9.65" font-weight="normal" font-style="normal" text-anchor="start" fill="#111" stroke="#111" stroke-width="0.2">WT</text>
<rect x="51.50" y="281.60" width="6.00" height="5.50" fill="#fff" stroke="#222" stroke-width="0.9"/>
<text x="61.10" y="288.10" font-family='"Liberation Serif", serif' font-size="9.65" font-weight="normal" font-style="normal" text-anchor="start" fill="#111" stroke="#111" stroke-width="0.2">WT+ATRA</text>
<clipPath id="c5"><rect x="111.50" y="271.60" width="6.00" height="5.50"/></clipPath>
<rect x="111.50" y="271.60" width="6.00" height="5.50" fill="#fbfbfb"/>
<path clip-path="url(#c5)" d="M103.40,271.60L108.02,277.10M105.75,271.60L110.37,277.10M108.10,271.60L112.72,277.10M110.45,271.60L115.07,277.10M112.80,271.60L117.42,277.10M115.15,271.60L119.77,277.10M117.50,271.60L122.12,277.10M119.85,271.60L124.47,277.10" stroke="#383838" stroke-width="0.8" fill="none"/>
<rect x="111.50" y="271.60" width="6.00" height="5.50" fill="none" stroke="#222" stroke-width="0.9"/>
<text x="120.30" y="278.10" font-family='"Liberation Serif", serif' font-size="9.65" font-weight="normal" font-style="normal" text-anchor="start" fill="#111" stroke="#111" stroke-width="0.2">EV</text>
<rect x="111.50" y="281.60" width="6.00" height="5.50" fill="#1e1e1e" stroke="#222" stroke-width="0.9"/>
<text x="120.10" y="288.10" font-family='"Liberation Serif", serif' font-size="9.65" font-weight="normal" font-style="normal" text-anchor="start" fill="#111" stroke="#111" stroke-width="0.2">EV+ATRA</text>
<rect x="169.50" y="271.60" width="6.00" height="5.50" fill="url(#ck)" stroke="#222" stroke-width="0.9"/>
<text x="178.70" y="278.10" font-family='"Liberation Serif", serif' font-size="9.65" font-weight="normal" font-style="normal" text-anchor="start" fill="#111" stroke="#111" stroke-width="0.2">R2</text>
<rect x="169.50" y="281.60" width="6.00" height="5.50" fill="url(#gr)" stroke="#222" stroke-width="0.9"/>
<text x="178.50" y="288.10" font-family='"Liberation Serif", serif' font-size="9.65" font-weight="normal" font-style="normal" text-anchor="start" fill="#111" stroke="#111" stroke-width="0.2">R2+ATRA</text>
<rect x="45.50" y="299.50" width="9.00" height="55.70" fill="url(#hzD)" stroke="#222" stroke-width="0.9"/>
<line x1="49.50" y1="297.50" x2="49.50" y2="299.50" stroke="#222" stroke-width="1.0"/>
<line x1="47.00" y1="297.50" x2="52.00" y2="297.50" stroke="#222" stroke-width="1.0"/>
<clipPath id="c6"><rect x="54.50" y="298.50" width="9.00" height="56.70"/></clipPath>
<rect x="54.50" y="298.50" width="9.00" height="56.70" fill="#fbfbfb"/>
<path clip-path="url(#c6)" d="M2.35,298.50L49.93,355.20M4.70,298.50L52.28,355.20M7.05,298.50L54.63,355.20M9.40,298.50L56.98,355.20M11.75,298.50L59.33,355.20M14.10,298.50L61.68,355.20M16.45,298.50L64.03,355.20M18.80,298.50L66.38,355.20M21.15,298.50L68.73,355.20M23.50,298.50L71.08,355.20M25.85,298.50L73.43,355.20M28.20,298.50L75.78,355.20M30.55,298.50L78.13,355.20M32.90,298.50L80.48,355.20M35.25,298.50L82.83,355.20M37.60,298.50L85.18,355.20M39.95,298.50L87.53,355.20M42.30,298.50L89.88,355.20M44.65,298.50L92.23,355.20M47.00,298.50L94.58,355.20M49.35,298.50L96.93,355.20M51.70,298.50L99.28,355.20M54.05,298.50L101.63,355.20M56.40,298.50L103.98,355.20M58.75,298.50L106.33,355.20M61.10,298.50L108.68,355.20M63.45,298.50L111.03,355.20M65.80,298.50L113.38,355.20" stroke="#383838" stroke-width="0.8" fill="none"/>
<rect x="54.50" y="298.50" width="9.00" height="56.70" fill="none" stroke="#222" stroke-width="0.9"/>
<line x1="58.50" y1="297.50" x2="58.50" y2="298.50" stroke="#222" stroke-width="1.0"/>
<line x1="56.00" y1="297.50" x2="61.00" y2="297.50" stroke="#222" stroke-width="1.0"/>
<rect x="63.50" y="302.50" width="9.00" height="52.70" fill="url(#ck)" stroke="#222" stroke-width="0.9"/>
<line x1="67.50" y1="298.50" x2="67.50" y2="302.50" stroke="#222" stroke-width="1.0"/>
<line x1="65.00" y1="298.50" x2="70.00" y2="298.50" stroke="#222" stroke-width="1.0"/>
<rect x="72.50" y="304.50" width="9.00" height="50.70" fill="#fff" stroke="#222" stroke-width="0.9"/>
<line x1="76.50" y1="299.50" x2="76.50" y2="304.50" stroke="#222" stroke-width="1.0"/>
<line x1="74.00" y1="299.50" x2="79.00" y2="299.50" stroke="#222" stroke-width="1.0"/>
<rect x="81.50" y="307.50" width="8.00" height="47.70" fill="#1e1e1e" stroke="#222" stroke-width="0.9"/>
<line x1="85.50" y1="303.50" x2="85.50" y2="307.50" stroke="#222" stroke-width="1.0"/>
<line x1="83.00" y1="303.50" x2="88.00" y2="303.50" stroke="#222" stroke-width="1.0"/>
<rect x="89.50" y="340.50" width="9.00" height="14.70" fill="url(#gr)" stroke="#222" stroke-width="0.9"/>
<line x1="93.50" y1="333.50" x2="93.50" y2="340.50" stroke="#222" stroke-width="1.0"/>
<line x1="91.00" y1="333.50" x2="96.00" y2="333.50" stroke="#222" stroke-width="1.0"/>
<path d="M83.50,301.60 L83.50,297.50 L96.50,297.50 L96.50,301.60" fill="none" stroke="#222" stroke-width="1.0"/>
<text x="89.90" y="299.50" font-family='"Liberation Sans", sans-serif' font-size="8.5" font-weight="bold" font-style="normal" text-anchor="middle" fill="#6e6e6e" >*</text>
<rect x="111.50" y="300.50" width="8.00" height="54.70" fill="url(#hzD)" stroke="#222" stroke-width="0.9"/>
<line x1="115.50" y1="298.50" x2="115.50" y2="300.50" stroke="#222" stroke-width="1.0"/>
<line x1="113.00" y1="298.50" x2="118.00" y2="298.50" stroke="#222" stroke-width="1.0"/>
<clipPath id="c7"><rect x="119.50" y="302.50" width="9.00" height="52.70"/></clipPath>
<rect x="119.50" y="302.50" width="9.00" height="52.70" fill="#fbfbfb"/>
<path clip-path="url(#c7)" d="M72.85,302.50L117.07,355.20M75.20,302.50L119.42,355.20M77.55,302.50L121.77,355.20M79.90,302.50L124.12,355.20M82.25,302.50L126.47,355.20M84.60,302.50L128.82,355.20M86.95,302.50L131.17,355.20M89.30,302.50L133.52,355.20M91.65,302.50L135.87,355.20M94.00,302.50L138.22,355.20M96.35,302.50L140.57,355.20M98.70,302.50L142.92,355.20M101.05,302.50L145.27,355.20M103.40,302.50L147.62,355.20M105.75,302.50L149.97,355.20M108.10,302.50L152.32,355.20M110.45,302.50L154.67,355.20M112.80,302.50L157.02,355.20M115.15,302.50L159.37,355.20M117.50,302.50L161.72,355.20M119.85,302.50L164.07,355.20M122.20,302.50L166.42,355.20M124.55,302.50L168.77,355.20M126.90,302.50L171.12,355.20M129.25,302.50L173.47,355.20" stroke="#383838" stroke-width="0.8" fill="none"/>
<rect x="119.50" y="302.50" width="9.00" height="52.70" fill="none" stroke="#222" stroke-width="0.9"/>
<line x1="123.50" y1="298.50" x2="123.50" y2="302.50" stroke="#222" stroke-width="1.0"/>
<line x1="121.00" y1="298.50" x2="126.00" y2="298.50" stroke="#222" stroke-width="1.0"/>
<rect x="128.50" y="302.50" width="9.00" height="52.70" fill="url(#ck)" stroke="#222" stroke-width="0.9"/>
<line x1="132.50" y1="298.50" x2="132.50" y2="302.50" stroke="#222" stroke-width="1.0"/>
<line x1="130.00" y1="298.50" x2="135.00" y2="298.50" stroke="#222" stroke-width="1.0"/>
<rect x="137.50" y="310.50" width="9.00" height="44.70" fill="#fff" stroke="#222" stroke-width="0.9"/>
<line x1="141.50" y1="305.50" x2="141.50" y2="310.50" stroke="#222" stroke-width="1.0"/>
<line x1="139.00" y1="305.50" x2="144.00" y2="305.50" stroke="#222" stroke-width="1.0"/>
<rect x="146.50" y="308.50" width="8.00" height="46.70" fill="#1e1e1e" stroke="#222" stroke-width="0.9"/>
<line x1="150.50" y1="304.50" x2="150.50" y2="308.50" stroke="#222" stroke-width="1.0"/>
<line x1="148.00" y1="304.50" x2="153.00" y2="304.50" stroke="#222" stroke-width="1.0"/>
<rect x="154.50" y="337.50" width="9.00" height="17.70" fill="url(#gr)" stroke="#222" stroke-width="0.9"/>
<line x1="158.50" y1="332.50" x2="158.50" y2="337.50" stroke="#222" stroke-width="1.0"/>
<line x1="156.00" y1="332.50" x2="161.00" y2="332.50" stroke="#222" stroke-width="1.0"/>
<path d="M148.50,301.80 L148.50,298.50 L161.50,298.50 L161.50,301.80" fill="none" stroke="#222" stroke-width="1.0"/>
<text x="154.70" y="299.70" font-family='"Liberation Sans", sans-serif' font-size="8.5" font-weight="bold" font-style="normal" text-anchor="middle" fill="#6e6e6e" >*</text>
<rect x="176.50" y="299.50" width="8.00" height="55.70" fill="url(#hzD)" stroke="#222" stroke-width="0.9"/>
<line x1="180.50" y1="298.50" x2="180.50" y2="299.50" stroke="#222" stroke-width="1.0"/>
<line x1="178.00" y1="298.50" x2="183.00" y2="298.50" stroke="#222" stroke-width="1.0"/>
<clipPath id="c8"><rect x="184.50" y="301.50" width="9.50" height="53.70"/></clipPath>
<rect x="184.50" y="301.50" width="9.50" height="53.70" fill="#fbfbfb"/>
<path clip-path="url(#c8)" d="M136.30,301.50L181.36,355.20M138.65,301.50L183.71,355.20M141.00,301.50L186.06,355.20M143.35,301.50L188.41,355.20M145.70,301.50L190.76,355.20M148.05,301.50L193.11,355.20M150.40,301.50L195.46,355.20M152.75,301.50L197.81,355.20M155.10,301.50L200.16,355.20M157.45,301.50L202.51,355.20M159.80,301.50L204.86,355.20M162.15,301.50L207.21,355.20M164.50,301.50L209.56,355.20M166.85,301.50L211.91,355.20M169.20,301.50L214.26,355.20M171.55,301.50L216.61,355.20M173.90,301.50L218.96,355.20M176.25,301.50L221.31,355.20M178.60,301.50L223.66,355.20M180.95,301.50L226.01,355.20M183.30,301.50L228.36,355.20M185.65,301.50L230.71,355.20M188.00,301.50L233.06,355.20M190.35,301.50L235.41,355.20M192.70,301.50L237.76,355.20M195.05,301.50L240.11,355.20" stroke="#383838" stroke-width="0.8" fill="none"/>
<rect x="184.50" y="301.50" width="9.50" height="53.70" fill="none" stroke="#222" stroke-width="0.9"/>
<line x1="189.50" y1="298.50" x2="189.50" y2="301.50" stroke="#222" stroke-width="1.0"/>
<line x1="187.00" y1="298.50" x2="192.00" y2="298.50" stroke="#222" stroke-width="1.0"/>
<rect x="194.00" y="304.50" width="8.50" height="50.70" fill="url(#ck)" stroke="#222" stroke-width="0.9"/>
<line x1="198.50" y1="299.50" x2="198.50" y2="304.50" stroke="#222" stroke-width="1.0"/>
<line x1="196.00" y1="299.50" x2="201.00" y2="299.50" stroke="#222" stroke-width="1.0"/>
<rect x="202.50" y="309.50" width="9.00" height="45.70" fill="#fff" stroke="#222" stroke-width="0.9"/>
<line x1="206.50" y1="305.50" x2="206.50" y2="309.50" stroke="#222" stroke-width="1.0"/>
<line x1="204.00" y1="305.50" x2="209.00" y2="305.50" stroke="#222" stroke-width="1.0"/>
<rect x="211.50" y="310.50" width="9.00" height="44.70" fill="#1e1e1e" stroke="#222" stroke-width="0.9"/>
<line x1="215.50" y1="306.50" x2="215.50" y2="310.50" stroke="#222" stroke-width="1.0"/>
<line x1="213.00" y1="306.50" x2="218.00" y2="306.50" stroke="#222" stroke-width="1.0"/>
<rect x="220.50" y="344.50" width="8.00" height="10.70" fill="url(#gr)" stroke="#222" stroke-width="0.9"/>
<line x1="224.50" y1="337.50" x2="224.50" y2="344.50" stroke="#222" stroke-width="1.0"/>
<line x1="222.00" y1="337.50" x2="227.00" y2="337.50" stroke="#222" stroke-width="1.0"/>
<path d="M214.50,303.40 L214.50,299.50 L227.50,299.50 L227.50,303.40" fill="none" stroke="#222" stroke-width="1.0"/>
<text x="221.40" y="300.70" font-family='"Liberation Sans", sans-serif' font-size="8.5" font-weight="bold" font-style="normal" text-anchor="middle" fill="#6e6e6e" >*</text>
<text x="72.50" y="374.60" font-family='"Liberation Serif", serif' font-size="9.6" font-weight="normal" font-style="normal" text-anchor="middle" fill="#111" textLength="25.4" lengthAdjust="spacingAndGlyphs" stroke="#111" stroke-width="0.15">ARP.1</text>
<text x="137.50" y="374.60" font-family='"Liberation Serif", serif' font-size="9.6" font-weight="normal" font-style="normal" text-anchor="middle" fill="#111" textLength="39.4" lengthAdjust="spacingAndGlyphs" stroke="#111" stroke-width="0.15">OCI-MY5</text>
<text x="202.00" y="374.60" font-family='"Liberation Serif", serif' font-size="9.6" font-weight="normal" font-style="normal" text-anchor="middle" fill="#111" textLength="19.0" lengthAdjust="spacingAndGlyphs" stroke="#111" stroke-width="0.15">XG-1</text>
</g>
</svg>
</body></html>
